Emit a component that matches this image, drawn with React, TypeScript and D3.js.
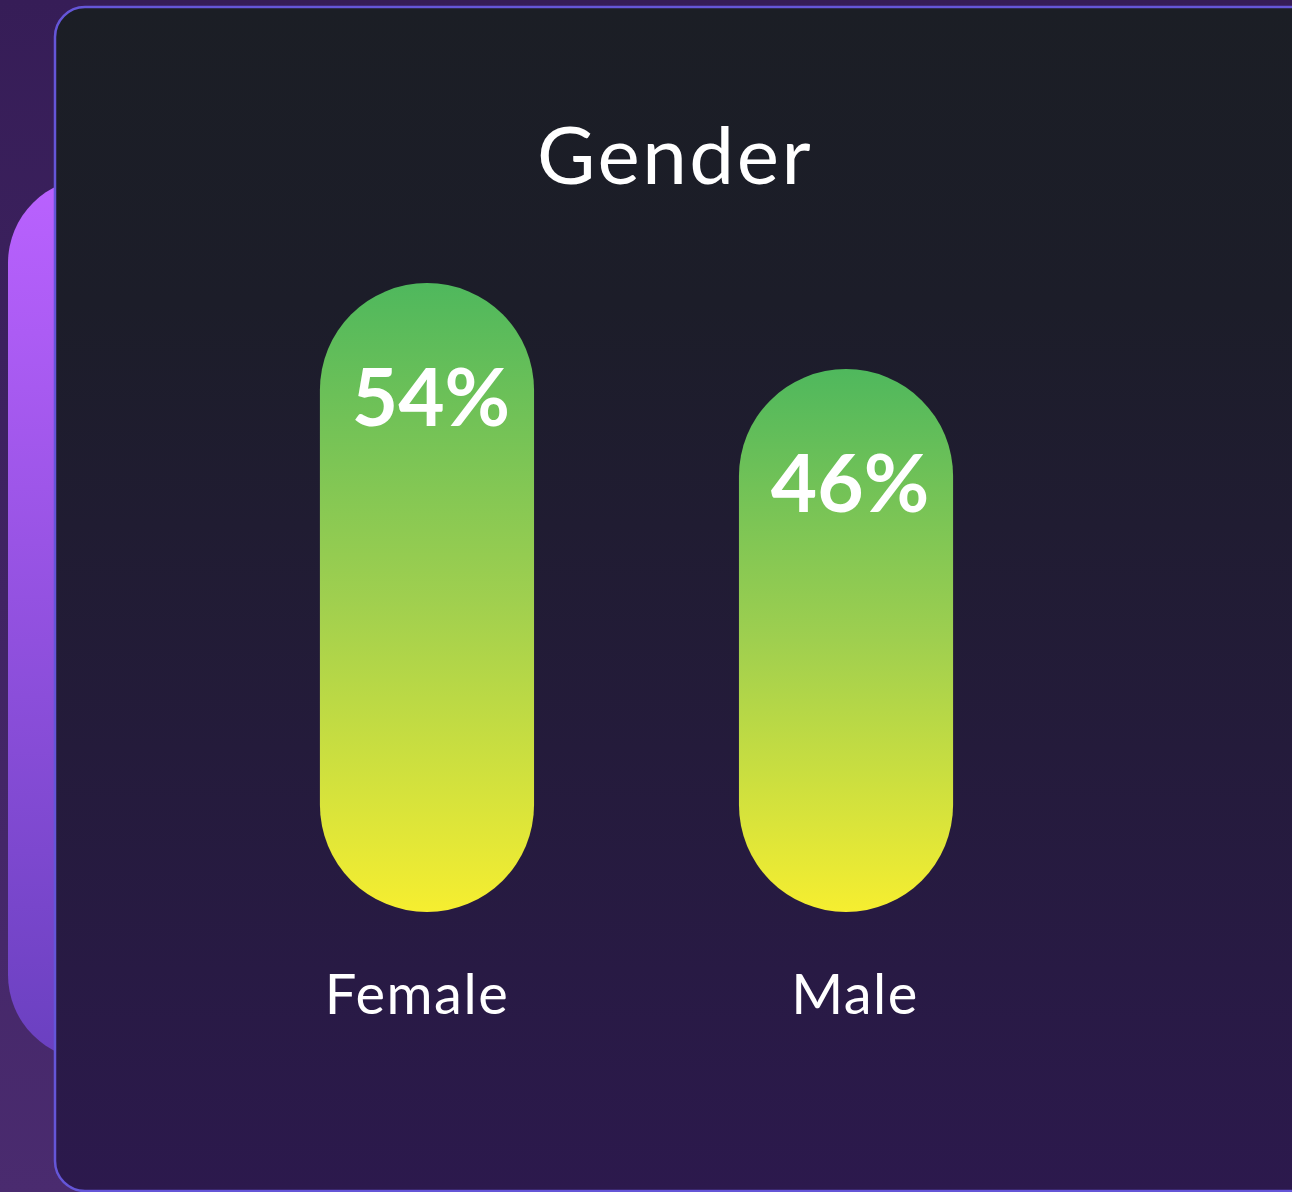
import React, { useEffect, useRef } from 'react'
import * as d3 from 'd3'

// data
const categories = ['Female', 'Male']
const shares = [54, 46]
const title = 'Gender'

const W = 1292
const H = 1192

export default function App() {
  const ref = useRef<SVGSVGElement | null>(null)

  useEffect(() => {
    const svg = d3.select(ref.current)
    svg.selectAll('*').remove()

    const defs = svg.append('defs')

    const bg = defs.append('linearGradient').attr('id', 'pageBg').attr('x1', 0).attr('y1', 0).attr('x2', 0).attr('y2', 1)
    bg.append('stop').attr('offset', '0%').attr('stop-color', '#361d57')
    bg.append('stop').attr('offset', '100%').attr('stop-color', '#4a2b6f')

    const blob = defs.append('linearGradient').attr('id', 'blobBg').attr('x1', 0).attr('y1', 0).attr('x2', 0).attr('y2', 1)
    blob.append('stop').attr('offset', '0%').attr('stop-color', '#ba62ff')
    blob.append('stop').attr('offset', '100%').attr('stop-color', '#6a40c0')

    const card = defs.append('linearGradient').attr('id', 'cardBg').attr('x1', 0).attr('y1', 0).attr('x2', 0).attr('y2', 1)
    card.append('stop').attr('offset', '0%').attr('stop-color', '#1b1e25')
    card.append('stop').attr('offset', '25%').attr('stop-color', '#1c1d29')
    card.append('stop').attr('offset', '100%').attr('stop-color', '#2c194d')

    const bar = defs.append('linearGradient').attr('id', 'barFill').attr('x1', 0).attr('y1', 0).attr('x2', 0).attr('y2', 1)
    bar.append('stop').attr('offset', '0%').attr('stop-color', '#4fb85d')
    bar.append('stop').attr('offset', '50%').attr('stop-color', '#9fcf4f')
    bar.append('stop').attr('offset', '100%').attr('stop-color', '#f6ee30')

    /* backdrop */
    svg.append('rect').attr('width', W).attr('height', H).attr('fill', 'url(#pageBg)')
    svg.append('rect')
      .attr('x', 8).attr('y', 178).attr('width', 300).attr('height', 882)
      .attr('rx', 85).attr('fill', 'url(#blobBg)')

    /* card */
    svg.append('rect')
      .attr('x', 55).attr('y', 7).attr('width', 1265).attr('height', 1184)
      .attr('rx', 30).attr('fill', 'url(#cardBg)')
      .attr('stroke', '#6556d8').attr('stroke-width', 2.5)

    svg.append('text')
      .attr('x', 675).attr('y', 184)
      .attr('text-anchor', 'middle')
      .attr('fill', '#ffffff')
      .attr('font-family', 'Lato, sans-serif')
      .attr('font-size', 80)
      .attr('letter-spacing', 2.5)
      .text(title)

    /* scales */
    const xScale = d3.scaleBand<string>()
      .domain(categories)
      .range([115, 1158])
      .padding(0.489)

    const yScale = d3.scaleLinear()
      .domain([-4.5, 54])
      .range([912, 283])

    const bw = xScale.bandwidth()

    const g = svg.append('g')

    g.selectAll('rect.bar')
      .data(categories)
      .enter()
      .append('rect')
      .attr('class', 'bar')
      .attr('x', (d) => xScale(d) as number)
      .attr('y', (d, i) => yScale(shares[i]))
      .attr('width', bw)
      .attr('height', (d, i) => yScale(-4.5) - yScale(shares[i]))
      .attr('rx', bw / 2)
      .attr('fill', 'url(#barFill)')

    g.selectAll('text.value')
      .data(categories)
      .enter()
      .append('text')
      .attr('class', 'value')
      .attr('x', (d) => (xScale(d) as number) + bw / 2 + 4)
      .attr('y', (d, i) => yScale(shares[i]) + 143)
      .attr('text-anchor', 'middle')
      .attr('fill', '#ffffff')
      .attr('font-family', 'Lato, sans-serif')
      .attr('font-weight', 700)
      .attr('font-size', 80)
      .text((d, i) => `${shares[i]}%`)

    g.selectAll('text.cat')
      .data(categories)
      .enter()
      .append('text')
      .attr('class', 'cat')
      .attr('x', (d, i) => (xScale(d) as number) + bw / 2 + (i === 0 ? -10 : 9))
      .attr('y', 1014)
      .attr('text-anchor', 'middle')
      .attr('fill', '#ffffff')
      .attr('font-family', 'Lato, sans-serif')
      .attr('font-size', 56)
      .attr('letter-spacing', 1.5)
      .text((d) => d)
  }, [])

  return (
    <svg
      ref={ref}
      width={W}
      height={H}
      viewBox={`0 0 ${W} ${H}`}
      style={{ position: 'absolute', left: 0, top: 0, display: 'block' }}
    />
  )
}
